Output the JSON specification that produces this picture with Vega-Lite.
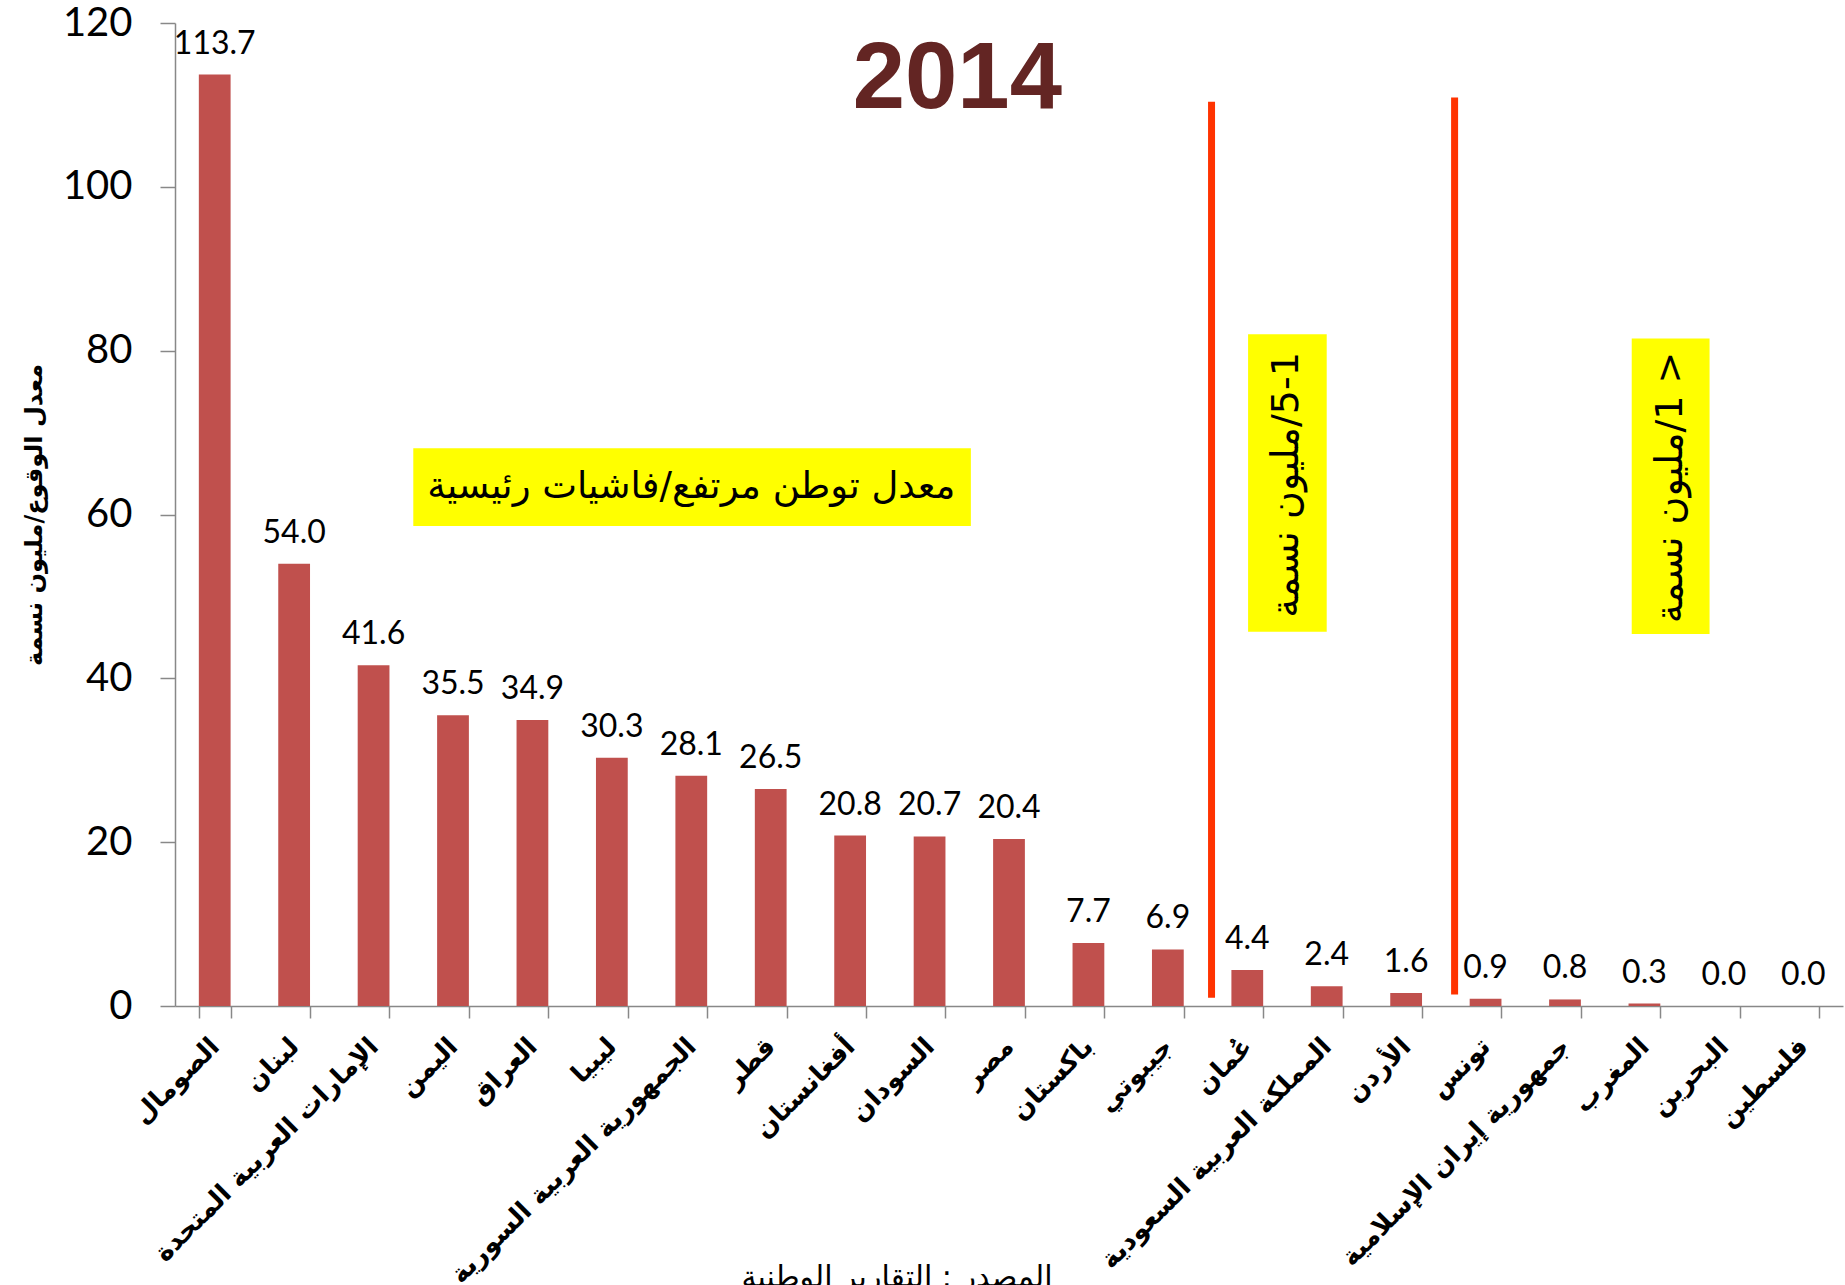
{
  "$schema": "https://vega.github.io/schema/vega-lite/v6.json",
  "width": 1668,
  "height": 983,
  "autosize": {"type": "none"},
  "padding": {"left": 175, "top": 23, "right": 2, "bottom": 279},
  "background": "#ffffff",
  "config": {"view": {"stroke": null}},
  "datasets": {
    "rates": [
      {"country": "الصومال", "rate": 113.7},
      {"country": "لبنان", "rate": 54.0},
      {"country": "الإمارات العربية المتحدة", "rate": 41.6},
      {"country": "اليمن", "rate": 35.5},
      {"country": "العراق", "rate": 34.9},
      {"country": "ليبيا", "rate": 30.3},
      {"country": "الجمهورية العربية السورية", "rate": 28.1},
      {"country": "قطر", "rate": 26.5},
      {"country": "أفغانستان", "rate": 20.8},
      {"country": "السودان", "rate": 20.7},
      {"country": "مصر", "rate": 20.4},
      {"country": "باكستان", "rate": 7.7},
      {"country": "جيبوتي", "rate": 6.9},
      {"country": "عُمان", "rate": 4.4},
      {"country": "المملكة العربية السعودية", "rate": 2.4},
      {"country": "الأردن", "rate": 1.6},
      {"country": "تونس", "rate": 0.9},
      {"country": "جمهورية إيران الإسلامية", "rate": 0.8},
      {"country": "المغرب", "rate": 0.3},
      {"country": "البحرين", "rate": 0.0},
      {"country": "فلسطين", "rate": 0.0}
    ]
  },
  "layer": [
    {
      "data": {"name": "rates"},
      "mark": {"type": "bar", "color": "#C0504D"},
      "encoding": {
        "x": {
          "field": "country", "type": "nominal", "sort": null,
          "scale": {"paddingInner": 0.6, "paddingOuter": 0.3},
          "axis": {
            "title": null, "labelAngle": -45, "labelAlign": "right", "labelBaseline": "middle",
            "labelFont": "DejaVu Sans", "labelFontWeight": "bold", "labelFontSize": 26, "labelColor": "#000000",
            "labelLimit": 0, "labelOverlap": false, "labelPadding": 24,
            "tickBand": "extent", "tickSize": 12, "tickColor": "#888888", "tickWidth": 1.5,
            "domainColor": "#888888", "domainWidth": 1.5
          }
        },
        "y": {
          "field": "rate", "type": "quantitative",
          "scale": {"domain": [0, 120], "nice": false},
          "axis": {
            "title": "معدل الوقوع/مليون نسمة", "titleFont": "DejaVu Sans", "titleFontWeight": "bold",
            "titleFontSize": 24, "titleColor": "#000000", "titlePadding": 16,
            "values": [0, 20, 40, 60, 80, 100, 120], "grid": false,
            "labelFont": "Lato", "labelFontSize": 40, "labelColor": "#000000", "labelPadding": 28,
            "tickSize": 15, "tickColor": "#888888", "tickWidth": 1.5,
            "domainColor": "#888888", "domainWidth": 1.5
          }
        }
      }
    },
    {
      "data": {"name": "rates"},
      "mark": {"type": "text", "font": "Lato", "fontSize": 32, "color": "#000000", "baseline": "alphabetic", "align": "center", "dy": -21},
      "encoding": {
        "x": {"field": "country", "type": "nominal", "sort": null, "scale": {"paddingInner": 0.6, "paddingOuter": 0.3}, "axis": null},
        "y": {"field": "rate", "type": "quantitative", "scale": {"domain": [0, 120], "nice": false}, "axis": null},
        "text": {"field": "rate", "type": "quantitative", "format": ".1f"}
      }
    },
    {
      "data": {"values": [
        {"start": 3.0, "end": 10.02, "low": 58.6, "high": 68.1},
        {"start": 13.51, "end": 14.5, "low": 45.7, "high": 82.0},
        {"start": 18.34, "end": 19.32, "low": 45.4, "high": 81.5}
      ]},
      "mark": {"type": "rect", "color": "#FFFF00"},
      "encoding": {
        "x": {"field": "start", "type": "quantitative", "scale": {"domain": [0, 21], "nice": false, "zero": false}, "axis": null},
        "x2": {"field": "end"},
        "y": {"field": "low", "type": "quantitative", "scale": {"domain": [0, 120], "nice": false}, "axis": null},
        "y2": {"field": "high"}
      }
    },
    {
      "data": {"values": [
        {"pos": 13.05, "low": 1.0, "high": 110.4},
        {"pos": 16.11, "low": 1.4, "high": 110.9}
      ]},
      "mark": {"type": "rule", "color": "#FF3300", "strokeWidth": 7},
      "encoding": {
        "x": {"field": "pos", "type": "quantitative", "scale": {"domain": [0, 21], "nice": false, "zero": false}, "axis": null},
        "y": {"field": "low", "type": "quantitative", "scale": {"domain": [0, 120], "nice": false}, "axis": null},
        "y2": {"field": "high"}
      }
    },
    {
      "data": {"values": [
        {"pos": 6.5, "level": 63.4, "label": "معدل توطن مرتفع/فاشيات رئيسية"}
      ]},
      "mark": {"type": "text", "font": "DejaVu Sans", "fontSize": 37, "color": "#000000", "baseline": "middle", "align": "center"},
      "encoding": {
        "x": {"field": "pos", "type": "quantitative", "scale": {"domain": [0, 21], "nice": false, "zero": false}, "axis": null},
        "y": {"field": "level", "type": "quantitative", "scale": {"domain": [0, 120], "nice": false}, "axis": null},
        "text": {"field": "label"}
      }
    },
    {
      "data": {"values": [
        {"pos": 14.0, "level": 63.6, "label": "\u202B5-1/مليون نسمة\u202C"},
        {"pos": 18.83, "level": 63.3, "label": "\u202B< 1/مليون نسمة\u202C"}
      ]},
      "mark": {"type": "text", "font": "DejaVu Sans", "fontSize": 38, "color": "#000000", "baseline": "middle", "align": "center", "angle": 270},
      "encoding": {
        "x": {"field": "pos", "type": "quantitative", "scale": {"domain": [0, 21], "nice": false, "zero": false}, "axis": null},
        "y": {"field": "level", "type": "quantitative", "scale": {"domain": [0, 120], "nice": false}, "axis": null},
        "text": {"field": "label"}
      }
    },
    {
      "data": {"values": [
        {"pos": 9.85, "level": 113.0, "label": "2014"}
      ]},
      "mark": {"type": "text", "font": "Liberation Sans", "fontWeight": "bold", "fontSize": 94, "color": "#632523", "baseline": "middle", "align": "center"},
      "encoding": {
        "x": {"field": "pos", "type": "quantitative", "scale": {"domain": [0, 21], "nice": false, "zero": false}, "axis": null},
        "y": {"field": "level", "type": "quantitative", "scale": {"domain": [0, 120], "nice": false}, "axis": null},
        "text": {"field": "label"}
      }
    },
    {
      "data": {"values": [
        {"pos": 9.09, "level": -34.3, "label": "المصدر : التقارير الوطنية"}
      ]},
      "mark": {"type": "text", "font": "DejaVu Sans", "fontSize": 30, "color": "#000000", "baseline": "alphabetic", "align": "center"},
      "encoding": {
        "x": {"field": "pos", "type": "quantitative", "scale": {"domain": [0, 21], "nice": false, "zero": false}, "axis": null},
        "y": {"field": "level", "type": "quantitative", "scale": {"domain": [0, 120], "nice": false}, "axis": null},
        "text": {"field": "label"}
      }
    }
  ],
  "resolve": {
    "scale": {"x": "independent", "y": "independent"},
    "axis": {"x": "independent", "y": "independent"}
  }
}
